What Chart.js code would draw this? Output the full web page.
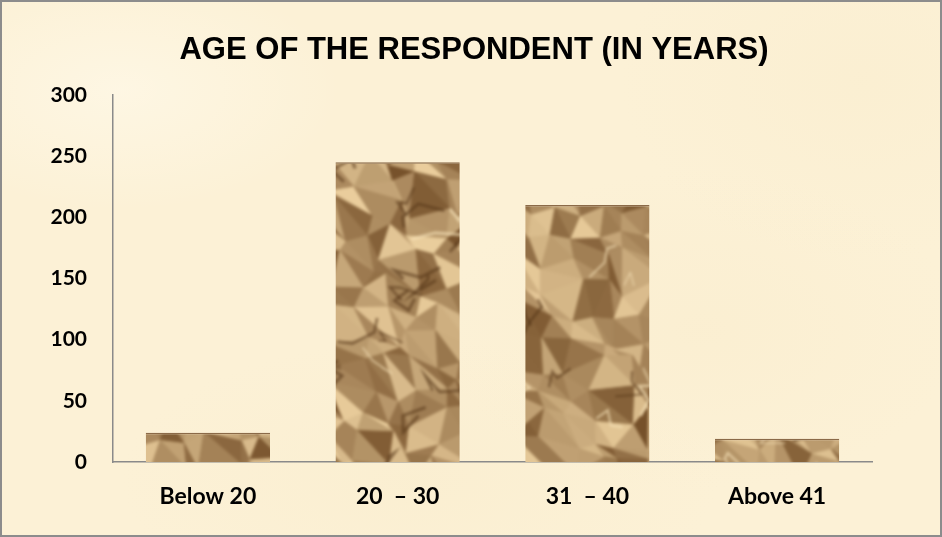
<!DOCTYPE html>
<html>
<head>
<meta charset="utf-8">
<script src="https://cdn.jsdelivr.net/npm/chart.js"></script>
<style>
  html, body { margin: 0; padding: 0; }
  #frame {
    position: relative; width: 942px; height: 537px;
    background:
      radial-gradient(ellipse 220px 120px at 120px 90px, rgba(255,250,236,0.6), rgba(255,250,236,0)),
      radial-gradient(ellipse 260px 160px at 700px 330px, rgba(247,232,196,0.25), rgba(247,232,196,0)),
      radial-gradient(ellipse 300px 140px at 420px 480px, rgba(247,233,198,0.3), rgba(247,233,198,0)),
      radial-gradient(ellipse 240px 180px at 860px 80px, rgba(248,234,200,0.3), rgba(248,234,200,0)),
      #fcf1d6;
  }
  #frame canvas { position: absolute; left: 0; top: 0; }
  #edge { position: absolute; inset: 0; border: 2px solid #8c8c8c; pointer-events: none; }
</style>
</head>
<body>
<div id="frame">
  <canvas id="ageChart" width="942" height="537"></canvas>
  <div id="edge"></div>
</div>

<script>
  const chartTitle = "AGE OF THE RESPONDENT (IN YEARS)";
  const ageGroups = ["Below 20", "20  \u2013 30", "31  \u2013 40", "Above 41"];
  const respondents = [24, 245, 210, 19];
  const yMin = 0, yMax = 300, yStep = 50;

  // crumpled brown paper look for the bars (one sheet the size of the canvas, no seams)
  function paperPattern() {
    const w = 942, h = 537, step = 26;
    const c = document.createElement("canvas");
    c.width = w; c.height = h;
    const g = c.getContext("2d");
    let s = 24681;
    const rnd = () => { s = (s * 16807) % 2147483647; return s / 2147483647; };
    const dark = [108, 70, 32], light = [242, 214, 164];
    const shade = t => "rgb(" + dark.map((d, k) => Math.round(d + (light[k] - d) * t)).join(",") + ")";
    g.fillStyle = shade(0.5);
    g.fillRect(0, 0, w, h);
    const cols = Math.ceil(w / step) + 3, rows = Math.ceil(h / step) + 3;
    const pts = [];
    for (let j = 0; j < rows; j++) {
      pts.push([]);
      for (let i = 0; i < cols; i++) {
        pts[j].push([(i - 1) * step + (rnd() - 0.5) * step * 0.95,
                     (j - 1) * step + (rnd() - 0.5) * step * 0.95]);
      }
    }
    const tri = (a, b, d, t) => {
      g.fillStyle = shade(t); g.strokeStyle = shade(t); g.lineWidth = 1;
      g.beginPath(); g.moveTo(a[0], a[1]); g.lineTo(b[0], b[1]); g.lineTo(d[0], d[1]);
      g.closePath(); g.fill(); g.stroke();
    };
    for (let j = 0; j < rows - 1; j++) {
      for (let i = 0; i < cols - 1; i++) {
        const p00 = pts[j][i], p10 = pts[j][i + 1], p01 = pts[j + 1][i], p11 = pts[j + 1][i + 1];
        const base = 0.35 + 0.35 * rnd();
        tri(p00, p10, p11, Math.min(1, Math.max(0, base + (rnd() - 0.5) * 0.6)));
        tri(p00, p11, p01, Math.min(1, Math.max(0, base + (rnd() - 0.5) * 0.6)));
      }
    }
    // creases
    for (let k = 0; k < 160; k++) {
      let x = rnd() * w, y = rnd() * h;
      g.beginPath(); g.moveTo(x, y);
      for (let n = 0; n < 3; n++) {
        x += (rnd() - 0.35) * 45; y += (rnd() - 0.5) * 35;
        g.lineTo(x, y);
      }
      const darkLine = rnd() < 0.6;
      g.strokeStyle = darkLine ? "rgba(84,52,22,0.6)" : "rgba(248,228,186,0.7)";
      g.lineWidth = darkLine ? 1.5 + rnd() * 1.5 : 1 + rnd() * 2;
      g.stroke();
    }
    const c2 = document.createElement("canvas");
    c2.width = w; c2.height = h;
    const g2 = c2.getContext("2d");
    g2.filter = "blur(1.6px)";
    g2.drawImage(c, 0, 0);
    return g2.createPattern(c2, "no-repeat");
  }

  const titlePlugin = {
    id: "drawnTitle",
    afterDraw(chart) {
      const ctx = chart.ctx;
      ctx.save();
      ctx.font = "bold 31px 'Liberation Sans', Arial, sans-serif";
      ctx.fillStyle = "#000";
      ctx.textAlign = "center";
      ctx.textBaseline = "alphabetic";
      ctx.fillText(chartTitle, 474, 59);
      ctx.restore();
    }
  };

  const ctx = document.getElementById("ageChart").getContext("2d");
  new Chart(ctx, {
    type: "bar",
    data: {
      labels: ageGroups,
      datasets: [{
        data: respondents,
        backgroundColor: paperPattern(),
        borderColor: "rgba(110,72,36,0.8)",
        borderWidth: { top: 1.5, left: 0, right: 0, bottom: 0 },
        barPercentage: 0.655,
        categoryPercentage: 1
      }]
    },
    options: {
      responsive: false,
      animation: false,
      layout: { padding: { top: 95, right: 70, bottom: 0, left: 0 } },
      plugins: { legend: { display: false }, tooltip: { enabled: false }, title: { display: false } },
      scales: {
        x: {
          grid: { display: false, drawTicks: false, tickLength: 0 },
          border: { display: true, color: "#8a8a8a", width: 1.5 },
          ticks: { color: "#000", padding: 21, font: { family: "Lato, 'Open Sans', sans-serif", size: 23, weight: "bold" } },
          afterFit(scale) { scale.height = 75; }
        },
        y: {
          min: yMin, max: yMax,
          grid: { display: false, drawTicks: false, tickLength: 0 },
          border: { display: true, color: "#8a8a8a", width: 1.5 },
          ticks: { stepSize: yStep, color: "#000", padding: 26, font: { family: "Lato, 'Open Sans', sans-serif", size: 21, weight: "bold" } },
          afterFit(scale) { scale.width = 113; }
        }
      }
    },
    plugins: [titlePlugin]
  });
</script>
</body>
</html>
